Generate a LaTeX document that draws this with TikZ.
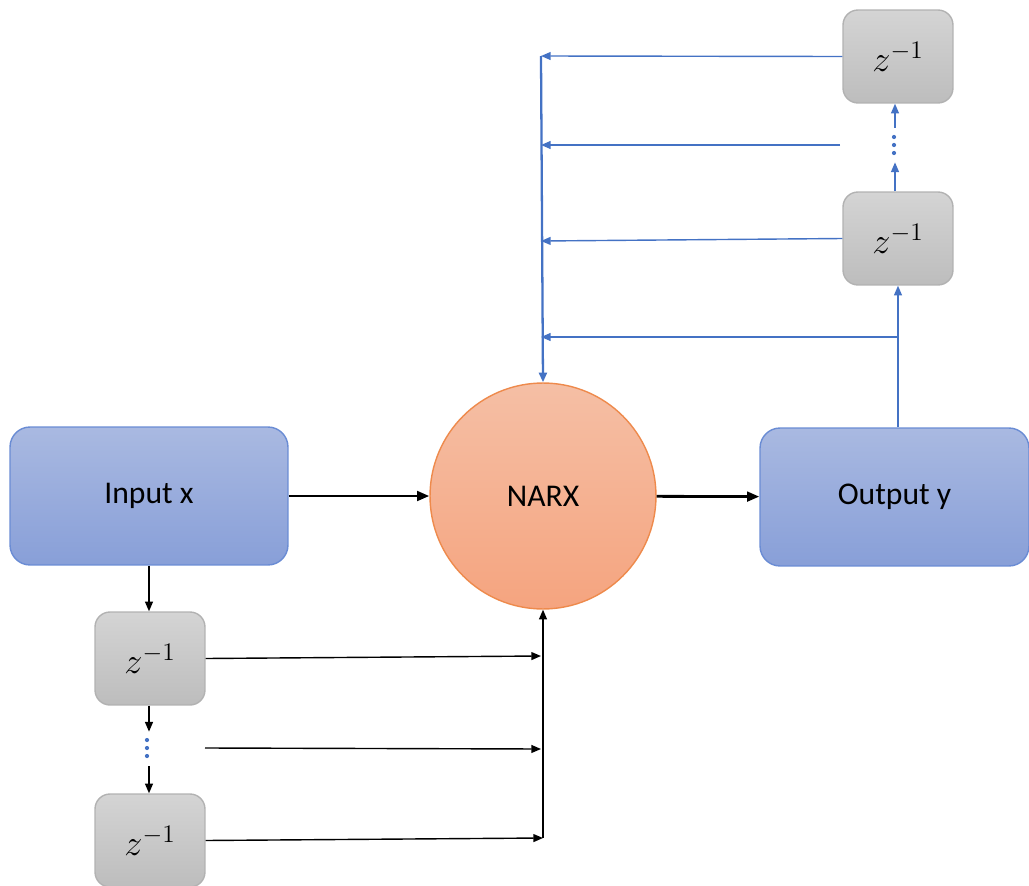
\documentclass[tikz,border=0pt]{standalone}
\usepackage{amsmath}
\usepackage{fontspec}
\setmainfont{Carlito}
\usepackage{tikz}
\usetikzlibrary{arrows.meta}
\usetikzlibrary{positioning}
\definecolor{fbblue}{HTML}{4472C4}
\definecolor{boxtop}{HTML}{A9B9E1}
\definecolor{boxbot}{HTML}{889FD8}
\definecolor{boxline}{HTML}{6A8CD4}
\definecolor{delaytop}{HTML}{D4D4D4}
\definecolor{delaybot}{HTML}{BDBDBD}
\definecolor{delayline}{HTML}{B2B2B2}
\definecolor{narxtop}{HTML}{F5BFA5}
\definecolor{narxbot}{HTML}{F5A47F}
\definecolor{narxline}{HTML}{EE8A4C}
\tikzset{>={Triangle[length = 5.5pt, width = 4.5pt]}}
\tikzset{io/.style = {draw = boxline, thick, rounded corners = 0.4cm, top color = boxtop, bottom color = boxbot,
                      minimum height = 2.76cm, font = \fontsize{18}{22}\selectfont}}
\tikzset{delay/.style = {draw = delayline, thick, rounded corners = 0.3cm, top color = delaytop, bottom color = delaybot,
                         minimum width = 2.2cm, minimum height = 1.86cm, font = \fontsize{20}{24}\selectfont}}
\tikzset{gapnode/.style = {inner sep = 0, minimum width = 4pt, minimum height = 0.68cm}}
\tikzset{main/.style = {-{Triangle[length = 7pt, width = 5.5pt]}, line width = 1.6pt}}
\tikzset{thin/.style = {->, line width = 0.8pt}}
\newcommand{\dotcol}[1]{\foreach \d in {-8, 0, 8} \fill [fbblue] (#1) ++(0, \d) circle (1.2pt);}

\begin{document}
\begin{tikzpicture}[x = 0.02cm, y = -0.02cm]
      \useasboundingbox (0, 0) rectangle (1029, 886);
      % blocks
      \node [io, minimum width = 5.56cm] (input) at (149, 496) {Input x};
      \node [io, minimum width = 5.38cm] (output) at (894.5, 497) {Output y};
      \node [circle, draw = narxline, thick, top color = narxtop, bottom color = narxbot, minimum size = 4.52cm,
             font = \fontsize{18}{22}\selectfont] (narx) at (543, 496) {NARX};
      % delays on the input
      \node [delay] (dx1) at (150, 658.5) {$z^{-1}$};
      \node [delay] (dx2) at (150, 840.5) {$z^{-1}$};
      \node [gapnode] (dotsx) at (149, 749) {};
      \dotcol{147, 748}
      % delays on the output
      \node [delay] (dy1) at (898, 238.5) {$z^{-1}$};
      \node [delay] (dy2) at (898, 56.5) {$z^{-1}$};
      \node [gapnode] (dotsy) at (895, 145) {};
      \dotcol{894, 145}
      % collector points
      \coordinate (cx1) at (541, 656);
      \coordinate (cx2) at (541, 749);
      \coordinate (cx3) at (543, 838);
      \coordinate (gap) at (205, 748);
      \coordinate (cy1) at (541, 56);
      \coordinate (cy2) at (541, 145);
      \coordinate (cy3) at (541, 241);
      \coordinate (cy4) at (541, 337);
      \coordinate (gapy) at (840, 145);
      \coordinate (tap) at (898, 337);
      % forward path
      \draw [main] (input) -- (narx);
      \draw [main] (narx) -- (output);
      % input side
      \draw [thin] (input.south -| dotsx) -- (dx1.north -| dotsx);
      \draw [thin] (dx1.south -| dotsx) -- (dotsx.north);
      \draw [thin] (dotsx.south) -- (dx2.north -| dotsx);
      \draw [thin] (dx1.east) -- (cx1);
      \draw [thin] (gap) -- (cx2);
      \draw [thin] (dx2.east) -- (cx3);
      \draw [thin] (cx3) -- (narx.south);
      % feedback side
      \begin{scope}[fbblue]
        \draw [->, line width = 1.3pt] (cy1) -- (narx.north);
        \draw [thin] (dy2.west) -- (cy1);
        \draw [thin] (gapy) -- (cy2);
        \draw [thin] (dy1.west) -- (cy3);
        \draw [thin] (output.north -| dy1) -- (dy1);
        \draw [thin] (tap) -- (cy4);
        \draw [thin] (dy1.north -| dotsy) -- (dotsy.south);
        \draw [thin] (dotsy.north) -- (dy2.south -| dotsy);
      \end{scope}
    \end{tikzpicture}
\end{document}
